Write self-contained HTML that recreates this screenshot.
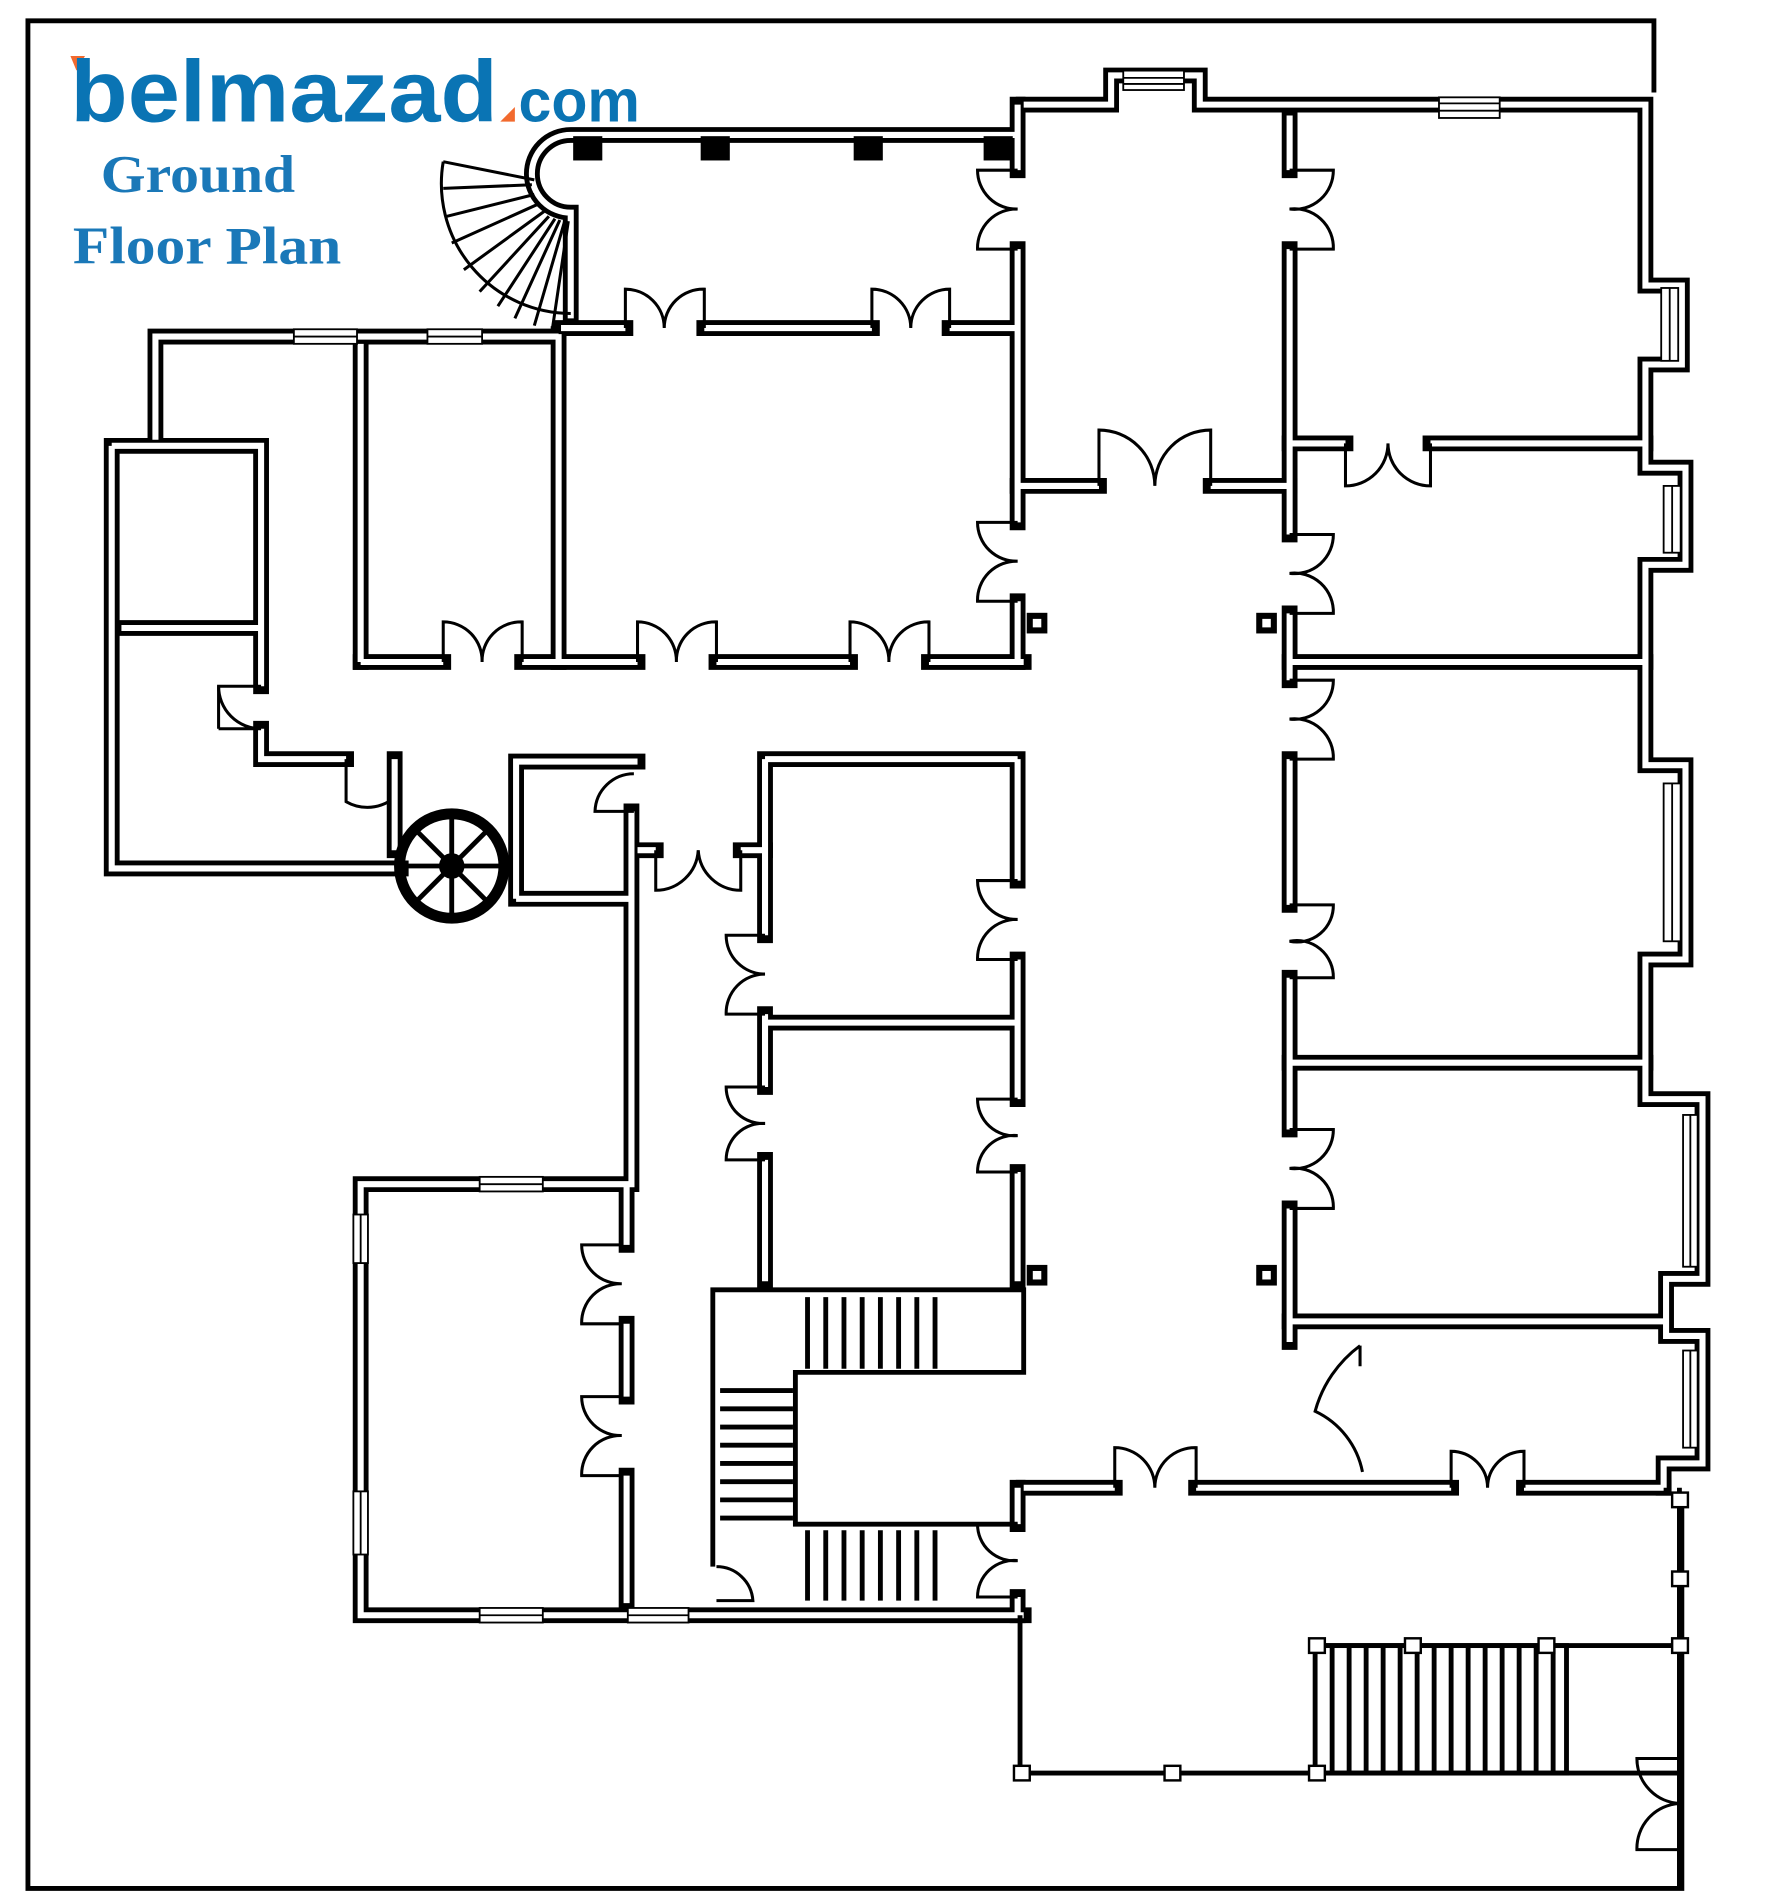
<!DOCTYPE html>
<html><head><meta charset="utf-8"><style>
html,body{margin:0;padding:0;background:#fff}
svg{display:block}
.w{fill:none;stroke:#000;stroke-width:13;stroke-linecap:square;stroke-linejoin:miter}
.wi{fill:none;stroke:#fff;stroke-width:5;stroke-linecap:butt;stroke-linejoin:miter}
.d{fill:none;stroke:#000;stroke-width:2.5}
.t{fill:none;stroke:#000;stroke-width:4}
</style></head><body>
<svg width="1779" height="1902" viewBox="0 0 1465 1566" xmlns="http://www.w3.org/2000/svg">
<rect width="1465" height="1566" fill="#fff"/>
<!-- frame -->
<path class="t" d="M1362 76 V17 H23 V1555 H1385 V1230"/>
<defs>
<g id="W">
<path d="M838 111 H470 A32 32 0 0 0 470 175 V262"/>
<path d="M462 270 H515 M580 270 H718 M782 270 H838"/>
<path d="M838 86 V140 M838 205 V430 M838 495 V545"/>
<path d="M843 86 H915 V62 H988 V86 H1355 V235 H1385 V300 H1355 V385 H1388 V465 H1355 V630 H1388 V790 H1355 V905 H1402 V1053 H1372 V1100 H1402 V1205 H1370 V1225"/>
<path d="M1062 95 V140 M1062 205 V440 M1062 505 V560 M1062 625 V745 M1062 805 V930 M1062 995 V1105"/>
<path d="M1062 365 H1108 M1178 365 H1355 M838 400 H905 M997 400 H1062"/>
<path d="M1062 545 H1355 M297 545 H365 M430 545 H525 M590 545 H700 M765 545 H843"/>
<path d="M1062 875 H1355 M1062 1088 H1370"/>
<path d="M843 1225 H918 M985 1225 H1195 M1255 1225 H1370"/>
<path d="M460 275 V545 M297 283 V545 M128 362 V277 H460"/>
<path d="M92 367 H215 V565 M215 600 V625 H285 M92 367 V715 H330 M100 517 H215 M325 625 V700"/>
<path d="M425 740 V627 H525 M425 740 H520 M520 668 V975 H297 V1330 H843 M516 975 V1025 M516 1090 V1150 M516 1215 V1320"/>
<path d="M525 700 H540 M610 700 H630"/>
<path d="M630 625 V770 M630 835 V895 M630 955 V1055 M630 625 H838 M838 625 V725 M838 790 V905 M838 965 V1055 M630 842 H838"/>
<path d="M838 1225 V1255 M838 1315 V1330"/>
</g>
</defs>
<g class="w"><use href="#W"/></g>
<g class="wi"><use href="#W"/></g>
<!-- stair block -->
<path class="t" stroke-width="5" d="M587 1290 V1062 H843 V1130 H655 V1255 H838"/>
<g stroke="#000" stroke-width="4">
<path d="M665 1068V1127M680 1068V1127M695 1068V1127M710 1068V1127M725 1068V1127M740 1068V1127M755 1068V1127M770 1068V1127"/>
<path d="M593 1145H653M593 1160H653M593 1175H653M593 1190H653M593 1205H653M593 1220H653M593 1235H653M593 1250H653"/>
<path d="M665 1260V1318M680 1260V1318M695 1260V1318M710 1260V1318M725 1260V1318M740 1260V1318M755 1260V1318M770 1260V1318"/>
</g>
<!-- porch -->
<path class="t" d="M840 1330 V1460 H1383 M1083 1355 H1383 M1383 1225 V1555"/>
<rect x="1083" y="1355" width="207" height="105" fill="none" stroke="#000" stroke-width="4"/>
<g stroke="#000" stroke-width="4">
<path d="M1097 1355V1460M1111 1355V1460M1125 1355V1460M1139 1355V1460M1153 1355V1460M1167 1355V1460M1181 1355V1460M1195 1355V1460M1209 1355V1460M1223 1355V1460M1237 1355V1460M1251 1355V1460M1265 1355V1460M1279 1355V1460"/>
</g>
<g fill="#fff" stroke="#000" stroke-width="2">
<rect x="835" y="1454" width="13" height="12"/><rect x="959" y="1454" width="13" height="12"/><rect x="1078" y="1454" width="13" height="12"/>
<rect x="1078" y="1349" width="13" height="12"/><rect x="1157" y="1349" width="13" height="12"/><rect x="1267" y="1349" width="13" height="12"/>
<rect x="1377" y="1349" width="13" height="12"/><rect x="1377" y="1294" width="13" height="12"/><rect x="1377" y="1229" width="13" height="12"/>
</g>
<!-- pillars / squares -->
<g fill="#000">
<rect x="472" y="112" width="24" height="20"/><rect x="577" y="112" width="24" height="20"/><rect x="703" y="112" width="24" height="20"/><rect x="810" y="112" width="24" height="20"/>
</g>
<g fill="#fff" stroke="#000" stroke-width="5">
<rect x="848" y="507" width="12" height="12"/><rect x="1037" y="507" width="12" height="12"/><rect x="848" y="1044" width="12" height="12"/><rect x="1037" y="1044" width="12" height="12"/>
</g>
<!-- windows -->
<g fill="#fff" stroke="#000" stroke-width="1.5">
<rect x="925" y="58" width="50" height="16"/><path d="M925 64H975M925 69H975"/>
<rect x="1185" y="80" width="50" height="17"/><path d="M1185 85H1235M1185 91H1235"/>
<rect x="242" y="271" width="52" height="12"/><path d="M242 277H294"/>
<rect x="352" y="271" width="45" height="12"/><path d="M352 277H397"/>
<rect x="1368" y="237" width="14" height="60"/><path d="M1375 237V297"/>
<rect x="1370" y="400" width="14" height="55"/><path d="M1377 400V455"/>
<rect x="1370" y="645" width="14" height="130"/><path d="M1377 645V775"/>
<rect x="1386" y="918" width="12" height="125"/><path d="M1392 918V1043"/>
<rect x="1386" y="1112" width="12" height="80"/><path d="M1392 1112V1192"/>
<rect x="395" y="969" width="52" height="12"/><path d="M395 975H447"/>
<rect x="395" y="1324" width="52" height="12"/><path d="M395 1330H447"/>
<rect x="517" y="1324" width="50" height="12"/><path d="M517 1330H567"/>
<rect x="291" y="1000" width="12" height="40"/><path d="M297 1000V1040"/>
<rect x="291" y="1228" width="12" height="52"/><path d="M297 1228V1280"/>
</g>
<!-- spiral stair -->
<g fill="none" stroke="#000" stroke-width="2.5">
<path d="M365 133 A107 107 0 0 0 470 258"/>
<path d="M365 133 L440 148 M365 155 L438 152 M368 178 L440 160 M372 200 L443 168 M382 222 L448 174 M395 240 L452 178 M410 252 L457 180 M424 262 L461 181 M440 268 L465 182 M455 270 L468 182"/>
</g>
<!-- doors -->
<g class="d">
<path d="M515 270 V238 A32 32 0 0 1 547 270 A32 32 0 0 1 580 238 V270"/>
<path d="M718 270 V238 A32 32 0 0 1 750 270 A32 32 0 0 1 782 238 V270"/>
<path d="M905 400 V354 A46 46 0 0 1 951 400 A46 46 0 0 1 997 354 V400"/>
<path d="M365 545 V512 A32 32 0 0 1 397 545 A32 32 0 0 1 430 512 V545"/>
<path d="M525 545 V512 A32 32 0 0 1 557 545 A32 32 0 0 1 590 512 V545"/>
<path d="M700 545 V512 A32 32 0 0 1 732 545 A32 32 0 0 1 765 512 V545"/>
<path d="M918 1225 V1192 A33 33 0 0 1 951 1225 A33 33 0 0 1 985 1192 V1225"/>
<path d="M1195 1225 V1195 A30 30 0 0 1 1225 1225 A30 30 0 0 1 1255 1195 V1225"/>
<path d="M1108 365 V400 A35 35 0 0 0 1143 365 A35 35 0 0 0 1178 400 V365"/>
<path d="M540 700 V733 A35 35 0 0 0 575 700 A35 35 0 0 0 610 733 V700"/>
<path d="M838 140 H805 A32 32 0 0 0 838 172 A32 32 0 0 0 805 205 H838"/>
<path d="M838 430 H805 A32 32 0 0 0 838 462 A32 32 0 0 0 805 495 H838"/>
<path d="M838 725 H805 A32 32 0 0 0 838 757 A32 32 0 0 0 805 790 H838"/>
<path d="M838 905 H805 A30 30 0 0 0 838 935 A30 30 0 0 0 805 965 H838"/>
<path d="M838 1255 H805 A30 30 0 0 0 838 1285 A30 30 0 0 0 805 1315 H838"/>
<path d="M630 770 H598 A32 32 0 0 0 630 802 A32 32 0 0 0 598 835 H630"/>
<path d="M630 895 H598 A30 30 0 0 0 630 925 A30 30 0 0 0 598 955 H630"/>
<path d="M512 1025 H479 A32 32 0 0 0 512 1057 A32 32 0 0 0 479 1090 H512"/>
<path d="M512 1150 H479 A32 32 0 0 0 512 1182 A32 32 0 0 0 479 1215 H512"/>
<path d="M1062 140 H1098 A32 32 0 0 1 1062 172 A32 32 0 0 1 1098 205 H1062"/>
<path d="M1062 440 H1098 A32 32 0 0 1 1062 472 A32 32 0 0 1 1098 505 H1062"/>
<path d="M1062 560 H1098 A32 32 0 0 1 1062 592 A32 32 0 0 1 1098 625 H1062"/>
<path d="M1062 745 H1098 A30 30 0 0 1 1062 775 A30 30 0 0 1 1098 805 H1062"/>
<path d="M1062 930 H1098 A32 32 0 0 1 1062 962 A32 32 0 0 1 1098 995 H1062"/>
<path d="M1383 1448 H1348 A37 37 0 0 0 1383 1485 A37 37 0 0 0 1348 1523 H1383"/>
<path d="M215 565 H180 A35 35 0 0 0 215 600 M180 600 H215" />
<path d="M180 565 V600"/>
<path d="M285 625 V660 A35 35 0 0 0 320 660 V625" stroke-width="2.5"/>
<path d="M522 637 A32 32 0 0 0 490 668 H522"/>
<path d="M1120 1108 V1125 M1120 1108 A100 100 0 0 0 1083 1162 A70 70 0 0 1 1122 1212"/>
<path d="M590 1290 A30 30 0 0 1 620 1318 H590"/>
</g>
<!-- wheel -->
<g stroke="#000" fill="none">
<circle cx="372" cy="713" r="43" stroke-width="9"/>
<path d="M372 670V756M329 713H415M342 683L402 743M402 683L342 743" stroke-width="4"/>
<circle cx="372" cy="713" r="10" fill="#000"/>
</g>
<!-- logo text -->
<path d="M58 46 L70 46 L63 58 Z" fill="#f26a2e"/>
<path d="M412 100 L424 100 L424 88 Z" fill="#f26a2e"/>
<text x="58" y="100" font-family="Liberation Sans, sans-serif" font-weight="bold" font-size="72" fill="#0a74b4" textLength="352" lengthAdjust="spacingAndGlyphs">belmazad</text>
<text x="427" y="100" font-family="Liberation Sans, sans-serif" font-weight="bold" font-size="50" fill="#0a74b4" textLength="100" lengthAdjust="spacingAndGlyphs">com</text>
<text x="83" y="158" font-family="Liberation Serif, serif" font-weight="bold" font-size="44" fill="#1a78b8" textLength="160" lengthAdjust="spacingAndGlyphs">Ground</text>
<text x="60" y="217" font-family="Liberation Serif, serif" font-weight="bold" font-size="44" fill="#1a78b8" textLength="221" lengthAdjust="spacingAndGlyphs">Floor Plan</text>
</svg>
</body></html>
